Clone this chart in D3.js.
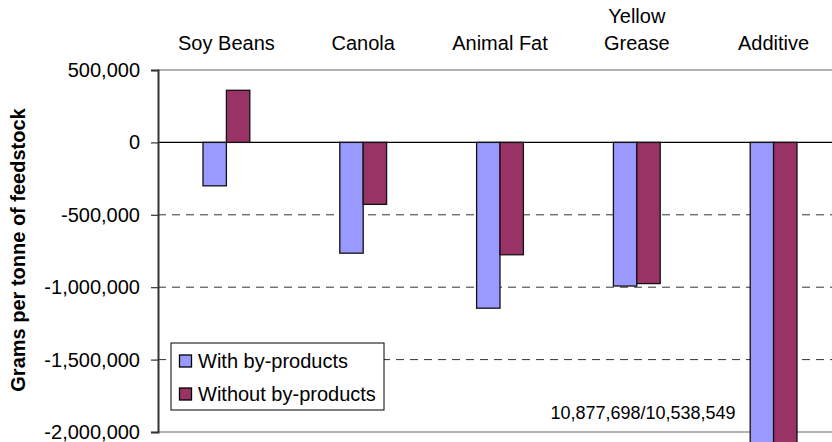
<!DOCTYPE html>
<html>
<head>
<meta charset="utf-8">
<script src="https://cdn.jsdelivr.net/npm/d3@7"></script>
<style>
  html, body { margin: 0; padding: 0; background: #fff; }
  svg { display: block; font-family: "Liberation Sans", Arial, sans-serif; }
</style>
</head>
<body>
<svg id="chart" width="832" height="442"></svg>
<script>
// Feedstock categories (multi-line names split on "\n")
const categories = ["Soy Beans", "Canola", "Animal Fat", "Yellow\nGrease", "Additive"];
const seriesNames = ["With by-products", "Without by-products"];
// Grams per tonne of feedstock
const withByProducts = [-300000, -765000, -1145000, -992000, -10877698];
const withoutByProducts = [360000, -428000, -776000, -975000, -10538549];
const yTicks = [500000, 0, -500000, -1000000, -1500000, -2000000];
const offScaleNote = "10,877,698/10,538,549";
const colors = ["#9999FF", "#993366"];

const svg = d3.select("#chart");
const W = 832, H = 442;
const plot = { left: 158, right: 842, top: 70, bottom: 432 };

const y = d3.scaleLinear().domain([-2000000, 500000]).range([plot.bottom, plot.top]);
const x = d3.scaleBand().domain(categories).range([plot.left, plot.right])
  .paddingInner(0.658).paddingOuter(0.329);
const xs = d3.scaleBand().domain(seriesNames).range([0, x.bandwidth()]);

// Gridlines
const grid = svg.append("g");
yTicks.forEach(t => {
  const g = grid.append("line")
    .attr("x1", plot.left).attr("x2", W)
    .attr("y1", y(t)).attr("y2", y(t));
  if (t === 0) {
    g.attr("stroke", "#000").attr("stroke-width", 1.2);
  } else if (t === 500000 || t === -2000000) {
    g.attr("stroke", "#999").attr("stroke-width", 1.5);
  } else {
    g.attr("stroke", "#333").attr("stroke-width", 1).attr("stroke-dasharray", "8,6");
  }
});

// Bars
const rows = categories.map((c, i) => ({ cat: c, vals: [withByProducts[i], withoutByProducts[i]] }));
const groups = svg.append("g").selectAll("g").data(rows).join("g")
  .attr("transform", d => `translate(${x(d.cat)},0)`);
groups.selectAll("rect")
  .data(d => d.vals.map((v, k) => ({ v, k })))
  .join("rect")
  .attr("x", d => xs(seriesNames[d.k]))
  .attr("width", xs.bandwidth())
  .attr("y", d => Math.min(y(d.v), y(0)))
  .attr("height", d => Math.abs(y(d.v) - y(0)))
  .attr("fill", d => colors[d.k])
  .attr("stroke", "#111")
  .attr("stroke-width", 1.3);

// Y axis
const yAxis = d3.axisLeft(y).tickValues(yTicks).tickSize(7).tickPadding(11)
  .tickFormat(d3.format(",.0f"));
const ya = svg.append("g").attr("transform", `translate(${plot.left},0)`).call(yAxis);
ya.select(".domain").attr("stroke", "#333").attr("stroke-width", 2);
ya.selectAll(".tick line").attr("stroke", "#333").attr("stroke-width", 1.2);
ya.selectAll(".tick text")
  .attr("fill", "#000")
  .style("font-size", "20px")
  .style("font-family", "'Liberation Sans', Arial, sans-serif")
  .text(d => d3.format(",.0f")(d).replace("−", "-"));

// Category labels above the plot
const catLabels = svg.append("g").selectAll("text").data(categories).join("text")
  .attr("x", d => x(d) + x.bandwidth() / 2)
  .attr("text-anchor", "middle")
  .style("font-size", "20px")
  .attr("fill", "#000");
catLabels.each(function(d) {
  const lines = d.split("\n");
  const t = d3.select(this);
  const base = 50 - (lines.length - 1) * 27;
  lines.forEach((ln, i) => {
    t.append("tspan").attr("x", x(d) + x.bandwidth() / 2).attr("y", base + i * 27).text(ln);
  });
});

// Y axis title
svg.append("text")
  .attr("transform", `translate(25,250) rotate(-90)`)
  .attr("text-anchor", "middle")
  .style("font-size", "20px")
  .style("font-weight", "bold")
  .attr("fill", "#000")
  .text("Grams per tonne of feedstock");

// Note for the off-scale Additive bars
svg.append("text")
  .attr("x", 643).attr("y", 419)
  .attr("text-anchor", "middle")
  .style("font-size", "18px")
  .attr("fill", "#000")
  .text(offScaleNote);

// Legend
const leg = svg.append("g").attr("transform", "translate(171,343)");
leg.append("rect").attr("width", 213).attr("height", 67)
  .attr("fill", "#fff").attr("stroke", "#000").attr("stroke-width", 1);
seriesNames.forEach((s, i) => {
  const cy = 18 + i * 33;
  leg.append("rect").attr("x", 8.5).attr("y", cy - 6).attr("width", 12).attr("height", 12)
    .attr("fill", colors[i]).attr("stroke", "#000").attr("stroke-width", 1.3);
  leg.append("text").attr("x", 27).attr("y", cy + 7)
    .style("font-size", "20px").attr("fill", "#000").text(s);
});
</script>
</body>
</html>
